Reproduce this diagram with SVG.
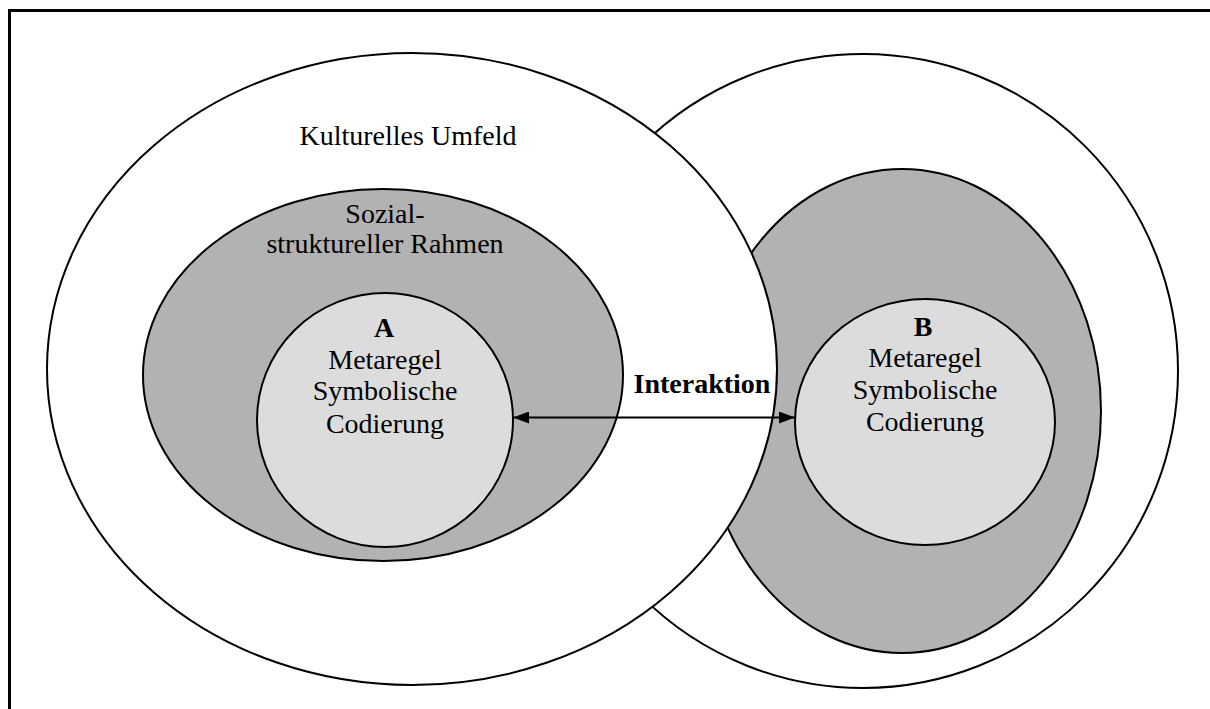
<svg xmlns="http://www.w3.org/2000/svg" width="1210" height="709" viewBox="0 0 1210 709">
<style>
.ln{stroke:#000;stroke-width:2}
.w{fill:#fff}
.g{fill:#b2b2b2}
.l{fill:#dcdcdc}
text{font-family:"Liberation Serif","Times New Roman",serif;font-size:28px;fill:#000;text-anchor:middle}
.b{font-weight:bold}
</style>
<defs>
<marker id="ah" viewBox="0 0 16 12" refX="16" refY="6" markerWidth="16" markerHeight="12" markerUnits="userSpaceOnUse" orient="auto-start-reverse">
<path d="M0,0 L16,6 L0,12 Z" fill="#000"/>
</marker>
</defs>
<rect x="0" y="0" width="1210" height="709" fill="#fff"/>
<rect x="9.5" y="10.5" width="1300" height="800" fill="none" stroke="#000" stroke-width="3"/>
<g id="kultur-b"><ellipse class="w ln" cx="863" cy="371" rx="315" ry="317"/></g>
<g id="sozial-b"><ellipse class="g ln" cx="902" cy="411" rx="199" ry="242"/></g>
<g id="kultur-a"><ellipse class="w ln" cx="412" cy="369" rx="365" ry="316"/>
<text x="408" y="145">Kulturelles Umfeld</text></g>
<g id="sozial-a"><ellipse class="g ln" cx="383" cy="375" rx="240" ry="186"/>
<text x="385" y="223">Sozial-</text>
<text x="385" y="253">struktureller Rahmen</text></g>
<g id="node-a"><ellipse class="l ln" cx="385" cy="420" rx="128" ry="127"/>
<text class="b" x="384" y="337">A</text>
<text x="385" y="369">Metaregel</text>
<text x="385" y="400">Symbolische</text>
<text x="385" y="433">Codierung</text></g>
<g id="node-b"><ellipse class="l ln" cx="925" cy="422" rx="130" ry="123"/>
<text class="b" x="923" y="336">B</text>
<text x="925" y="367">Metaregel</text>
<text x="925" y="399">Symbolische</text>
<text x="925" y="431">Codierung</text></g>
<g id="connectors">
<line x1="513" y1="417.5" x2="795" y2="417.5" stroke="#000" stroke-width="2" marker-start="url(#ah)" marker-end="url(#ah)"/>
<text class="b" x="702" y="393">Interaktion</text>
</g>
</svg>
